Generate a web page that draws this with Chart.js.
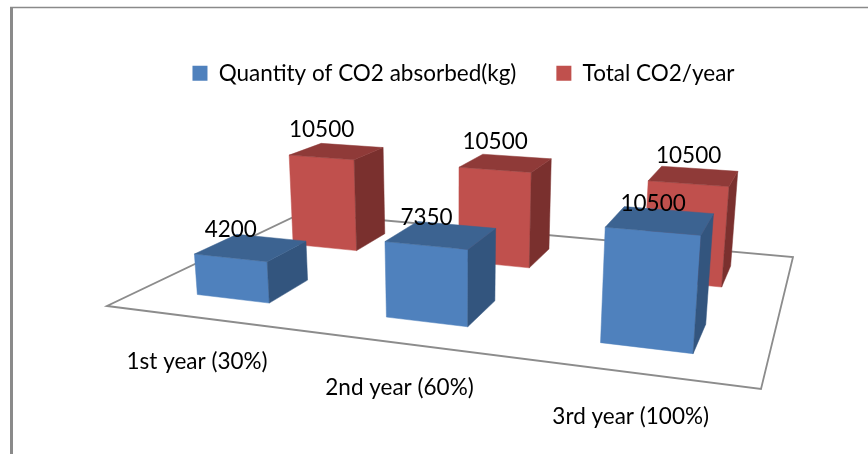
<!DOCTYPE html>
<html>
<head>
<meta charset="utf-8">
<style>html,body{margin:0;padding:0;background:#fff}canvas{display:block}</style>
<script src="https://cdn.jsdelivr.net/npm/chart.js@4"></script>
</head>
<body>
<canvas id="chart" width="868" height="454"></canvas>
<script>
// Chart data
const categories = ['1st year (30%)', '2nd year (60%)', '3rd year (100%)'];
const absorbed = [4200, 7350, 10500];
const totalPerYear = [10500, 10500, 10500];
const seriesNames = ['Quantity of CO2 absorbed(kg)', 'Total CO2/year'];

// Face colours of each series: front, side, top
const blueFaces = ['#4f81bd', '#33557e', '#3c6391'];
const redFaces = ['#c0504d', '#7a302e', '#8f3a38'];

// Camera: where the floor's unit square lands on the canvas, the vanishing
// point of the vertical edges, and the foreshortening of a full-height bar.
const floorCorners = [[107, 306], [761, 389], [793, 257], [302, 213]];
const verticalVanish = [456, 3900];
const heightFactor = -0.0287;
const barDepth = 0.2;

function buildFloorMatrix(q) {
  const [[x0, y0], [x1, y1], [x2, y2], [x3, y3]] = q;
  const dx1 = x1 - x2, dx2 = x3 - x2, sx = x0 - x1 + x2 - x3;
  const dy1 = y1 - y2, dy2 = y3 - y2, sy = y0 - y1 + y2 - y3;
  const den = dx1 * dy2 - dx2 * dy1;
  const g = (sx * dy2 - dx2 * sy) / den;
  const h = (dx1 * sy - sx * dy1) / den;
  return { a: x1 - x0 + g * x1, b: x3 - x0 + h * x3, c: x0,
           d: y1 - y0 + g * y1, e: y3 - y0 + h * y3, f: y0, g, h };
}
const M = buildFloorMatrix(floorCorners);

// Projects (across, depth, height), each in 0..1, to canvas pixels.
function project(u, v, t) {
  const T = t * heightFactor;
  const w = M.g * u + M.h * v + 1 + T;
  return [(M.a * u + M.b * v + M.c + T * verticalVanish[0]) / w,
          (M.d * u + M.e * v + M.f + T * verticalVanish[1]) / w];
}

function fillFace(ctx, pts, colour) {
  ctx.beginPath();
  pts.forEach((p, i) => i ? ctx.lineTo(p[0], p[1]) : ctx.moveTo(p[0], p[1]));
  ctx.closePath();
  ctx.fillStyle = colour;
  ctx.strokeStyle = colour;
  ctx.lineWidth = 0.5;
  ctx.fill();
  ctx.stroke();
}

const perspectiveBars = {
  id: 'perspectiveBars',
  beforeDraw(chart) {
    const ctx = chart.ctx;
    ctx.save();
    ctx.strokeStyle = '#8a8a8a';
    ctx.lineWidth = 1.5;
    ctx.beginPath();
    ctx.moveTo(10, 7.5);
    ctx.lineTo(868, 7.5);
    ctx.stroke();
    ctx.lineWidth = 3;
    ctx.beginPath();
    ctx.moveTo(11.5, 7);
    ctx.lineTo(11.5, 454);
    ctx.stroke();
    ctx.restore();
  },
  beforeDatasetsDraw(chart) {
    const ctx = chart.ctx;
    const c = [project(0, 0, 0), project(1, 0, 0), project(1, 1, 0), project(0, 1, 0)];
    ctx.save();
    ctx.beginPath();
    c.forEach((p, i) => i ? ctx.lineTo(p[0], p[1]) : ctx.moveTo(p[0], p[1]));
    ctx.closePath();
    ctx.strokeStyle = '#8c8c8c';
    ctx.lineWidth = 1.8;
    ctx.stroke();
    ctx.restore();
  },
  // The flat bars only supply geometry; the boxes are drawn below.
  beforeDatasetDraw() { return false; },
  afterDatasetsDraw(chart) {
    const ctx = chart.ctx;
    const xs = chart.scales.x, ys = chart.scales.y;
    const rows = chart.data.datasets.length;
    const labels = [];
    ctx.save();
    for (let d = rows - 1; d >= 0; d--) {
      const faces = chart.data.datasets[d].faces;
      const vMid = (d + 0.5) / rows;
      const v0 = vMid - barDepth / 2, v1 = vMid + barDepth / 2;
      chart.getDatasetMeta(d).data.forEach((bar, i) => {
        const u0 = (bar.x - bar.width / 2 - xs.left) / xs.width;
        const u1 = (bar.x + bar.width / 2 - xs.left) / xs.width;
        const t = (ys.bottom - bar.y) / (ys.bottom - ys.top);
        const fl = project(u0, v0, 0), fr = project(u1, v0, 0), br = project(u1, v1, 0);
        const tl = project(u0, v0, t), tr = project(u1, v0, t);
        const bt = project(u1, v1, t), lt = project(u0, v1, t);
        fillFace(ctx, [fl, fr, tr, tl], faces[0]);
        fillFace(ctx, [fr, br, bt, tr], faces[1]);
        fillFace(ctx, [tl, tr, bt, lt], faces[2]);
        labels.push({ text: String(chart.data.datasets[d].data[i]),
                      x: (tl[0] + tr[0]) / 2, y: (tl[1] + tr[1]) / 2 - 28 });
      });
    }
    ctx.fillStyle = '#000';
    ctx.textAlign = 'center';
    ctx.textBaseline = 'middle';
    ctx.font = '22.5px Lato';
    labels.forEach(l => ctx.fillText(l.text, l.x, l.y));
    xs.getLabels().forEach((name, i) => {
      const u = (xs.getPixelForValue(i) - xs.left) / xs.width;
      const p = project(u, 0, 0);
      ctx.fillText(name, p[0] - 2, p[1] + 44);
    });
    ctx.restore();
  }
};

new Chart(document.getElementById('chart'), {
  type: 'bar',
  data: {
    labels: categories,
    datasets: [
      { label: seriesNames[0], data: absorbed, backgroundColor: blueFaces[0], faces: blueFaces },
      { label: seriesNames[1], data: totalPerYear, backgroundColor: redFaces[0], faces: redFaces }
    ]
  },
  options: {
    responsive: false,
    animation: false,
    layout: { padding: { left: 59, top: 22 } },
    datasets: { bar: { grouped: false, categoryPercentage: 1, barPercentage: 0.395 } },
    scales: {
      x: { display: false },
      y: { display: false, min: 0, max: 10500 }
    },
    plugins: {
      tooltip: { enabled: false },
      legend: {
        position: 'top',
        labels: { boxWidth: 15, boxHeight: 15, padding: 40, color: '#000', font: { family: 'Lato', size: 22.5 } }
      }
    }
  },
  plugins: [perspectiveBars]
});
</script>
</body>
</html>
